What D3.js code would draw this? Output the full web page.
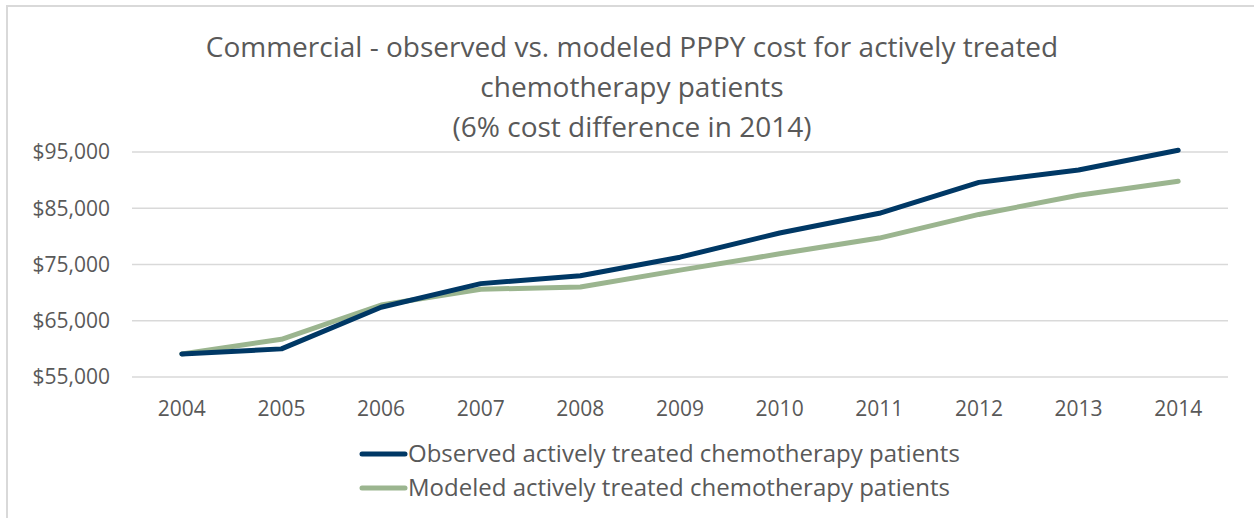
<!DOCTYPE html>
<html>
<head>
<meta charset="utf-8">
<script src="https://cdn.jsdelivr.net/npm/d3@7"></script>
<style>
  body { margin: 0; background: #fff; }
  text { font-family: "Open Sans", "Noto Sans", sans-serif; fill: #595959; }
</style>
</head>
<body>
<div id="chart"></div>
<script>
const years = ["2004", "2005", "2006", "2007", "2008", "2009", "2010", "2011", "2012", "2013", "2014"]
const observed = [59100, 60000, 67400, 71600, 73000, 76300, 80600, 84100, 89600, 91800, 95300]
const modeled = [59100, 61700, 67800, 70600, 71000, 74000, 76900, 79700, 83900, 87300, 89800]
const yTicks = [55000, 65000, 75000, 85000, 95000]
const titleLines = [
  "Commercial - observed vs. modeled PPPY cost for actively treated",
  "chemotherapy patients",
  "(6% cost difference in 2014)"
]
const seriesNames = [
  "Observed actively treated chemotherapy patients",
  "Modeled actively treated chemotherapy patients"
]

const width = 1254
const height = 518
const margin = { top: 152, right: 26, bottom: 141, left: 132 }
const colors = ["#003865", "#9bb58f"]

const svg = d3.select("#chart")
  .append("svg")
  .attr("width", width)
  .attr("height", height)

// chart frame, runs off the right and bottom of the picture
svg.append("rect")
  .attr("x", 7)
  .attr("y", 6)
  .attr("width", width)
  .attr("height", height)
  .attr("fill", "none")
  .attr("stroke", "#d9d9d9")
  .attr("stroke-width", 2)

const x = d3.scaleBand()
  .domain(years)
  .range([margin.left, width - margin.right])

const y = d3.scaleLinear()
  .domain([55000, 95000])
  .range([height - margin.bottom, margin.top])

const fmt = d3.format("$,")

// gridlines
svg.append("g")
  .selectAll("line")
  .data(yTicks)
  .join("line")
    .attr("x1", margin.left)
    .attr("x2", width - margin.right)
    .attr("y1", d => y(d))
    .attr("y2", d => y(d))
    .attr("stroke", "#d9d9d9")
    .attr("stroke-width", 1.3)

svg.append("g")
  .attr("text-anchor", "end")
  .selectAll("text")
  .data(yTicks)
  .join("text")
    .attr("x", 110)
    .attr("y", d => y(d))
    .attr("dy", "0.35em")
    .style("font-size", "21px")
    .text(fmt)

svg.append("g")
  .attr("text-anchor", "middle")
  .selectAll("text")
  .data(years)
  .join("text")
    .attr("x", d => x(d) + x.bandwidth() / 2)
    .attr("y", 416)
    .style("font-size", "21px")
    .text(d => d)

const line = d3.line()
  .x((d, i) => x(years[i]) + x.bandwidth() / 2)
  .y(d => y(d))

const series = [modeled, observed]
svg.append("g")
  .selectAll("path")
  .data(series)
  .join("path")
    .attr("fill", "none")
    .attr("stroke", (d, i) => i === 0 ? colors[1] : colors[0])
    .attr("stroke-width", 5)
    .attr("stroke-linejoin", "round")
    .attr("stroke-linecap", "round")
    .attr("d", line)

// title
svg.append("g")
  .attr("text-anchor", "middle")
  .selectAll("text")
  .data(titleLines)
  .join("text")
    .attr("x", 632)
    .attr("y", (d, i) => 57 + i * 40)
    .style("font-size", "28px")
    .text(d => d)

// legend
const legend = svg.append("g")
  .selectAll("g")
  .data(seriesNames)
  .join("g")
    .attr("transform", (d, i) => `translate(362,${454 + i * 34})`)

legend.append("line")
  .attr("x1", 0)
  .attr("x2", 43)
  .attr("stroke", (d, i) => colors[i])
  .attr("stroke-width", 5)
  .attr("stroke-linecap", "round")

legend.append("text")
  .attr("x", 46)
  .attr("dy", "0.35em")
  .style("font-size", "24px")
  .text(d => d)
</script>
</body>
</html>
